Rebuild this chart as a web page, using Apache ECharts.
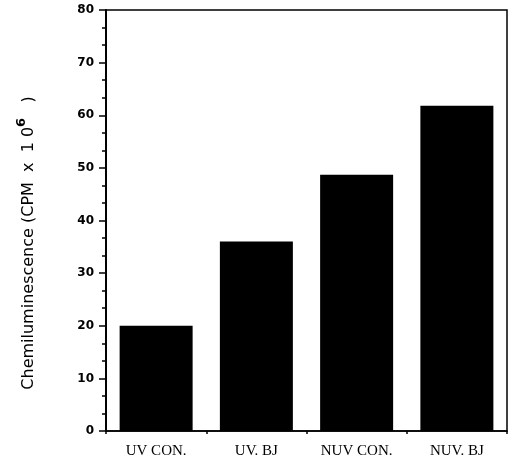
<!DOCTYPE html>
<html>
<head>
<meta charset="utf-8">
<script src="https://cdn.jsdelivr.net/npm/echarts@6/dist/echarts.min.js"></script>
<style>html,body{margin:0;padding:0;background:#fff}#c{width:512px;height:464px}</style>
</head>
<body>
<div id="c"></div>
<script>
var categories = ['UV CON.', 'UV. BJ', 'NUV CON.', 'NUV. BJ'];
var values = [20, 36, 48.7, 61.8];
var yTicks = [0, 10, 20, 30, 40, 50, 60, 70, 80];
var yTitle = 'Chemiluminescence (CPM  x  1 0{sup|6}   )';

var chart = echarts.init(document.getElementById('c'));
chart.setOption({
  animation: false,
  grid: { left: 106, right: 5, top: 10, bottom: 33, show: true, borderColor: '#000', borderWidth: 1.5, backgroundColor: 'transparent' },
  xAxis: {
    type: 'category',
    data: categories,
    axisLine: { lineStyle: { color: '#000', width: 1.5 } },
    axisTick: { show: true, length: 3, inside: false, lineStyle: { color: '#000', width: 1.5 } },
    axisLabel: { color: '#000', fontFamily: 'Liberation Serif', fontSize: 15, margin: 13 }
  },
  yAxis: {
    type: 'value',
    min: yTicks[0], max: yTicks[yTicks.length - 1], interval: 10,
    splitLine: { show: false },
    axisLine: { show: true, lineStyle: { color: '#000', width: 2 } },
    axisTick: { show: true, length: 7, lineStyle: { color: '#000', width: 1.5 } },
    minorTick: { show: true, splitNumber: 3, length: 4, lineStyle: { color: '#000', width: 1.5 } },
    axisLabel: { color: '#000', fontFamily: 'DejaVu Sans', fontWeight: 'bold', fontSize: 12, margin: 12 }
  },
  graphic: [{
    type: 'text',
    x: 29, y: 243,
    rotation: Math.PI / 2,
    style: {
      text: yTitle,
      fill: '#000',
      font: '16px "DejaVu Sans"',
      align: 'center',
      verticalAlign: 'middle',
      rich: { sup: { fontSize: 13, fontFamily: 'DejaVu Sans', fontWeight: 'bold', fill: '#000', padding: [0, 0, 15, 0] } }
    }
  }],
  series: [{
    type: 'bar',
    data: values,
    barWidth: 73,
    itemStyle: { color: '#000' }
  }]
});
</script>
</body>
</html>
